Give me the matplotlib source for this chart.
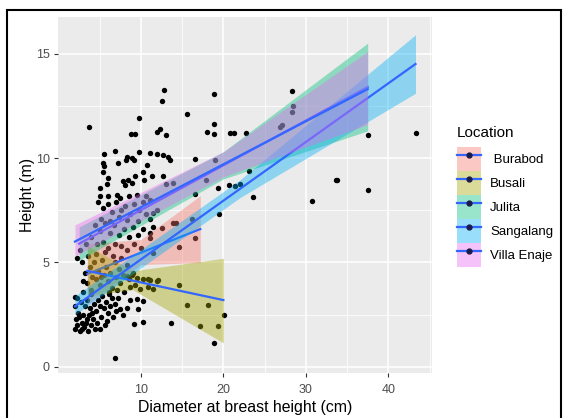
import matplotlib.pyplot as plt
from matplotlib.lines import Line2D
from matplotlib.patches import Patch, Rectangle

plt.rcParams['font.family'] = ['Liberation Sans', 'DejaVu Sans']

dbh = [
    3.7, 12.8, 12.5, 9.8, 18.85, 15.6, 18.85, 18.0, 18.85, 20.8, 21.3, 22.7, 8.75, 9.3, 12.0, 12.3, 13.0,
    28.3, 28.4, 28.3, 26.85, 27.1, 37.55, 43.3, 23.1, 33.6, 33.8, 37.55, 22.0, 23.6, 30.8,
    6.85, 5.55, 9.8, 11.1, 11.9, 12.7, 13.3, 13.5, 8.35, 8.2, 8.9, 9.15, 7.25, 5.45, 5.55, 5.35, 10.7, 10.2, 16.6, 19.0,
    6.05, 5.0, 5.85, 7.8, 8.45, 8.9, 8.05, 9.3, 10.35, 11.3, 12.7, 13.0, 13.85, 19.4, 20.7, 21.4, 17.95, 16.55,
    5.0, 6.05, 7.1, 7.4, 8.6, 9.55, 10.6,
    4.8, 5.4, 6.0, 6.5, 7.0, 7.6, 8.1, 8.7, 9.2, 9.8, 10.3, 11.1, 11.9, 11.45, 11.1, 19.5, 16.25,
    5.2, 6.3, 7.3, 8.3, 9.6, 10.6,
    4.4, 5.0, 5.6, 6.2, 6.7, 7.3, 7.9, 8.5, 9.0, 9.7, 10.3, 11.5, 12.6, 13.9, 14.25, 16.55, 11.1, 14.6, 11.5, 11.1,
    4.7, 5.4, 6.0, 6.8, 7.6, 8.3, 9.2, 10.0, 2.3, 2.6, 3.3, 3.9,
    3.0, 3.5, 4.0, 4.5, 5.0, 5.5, 6.0, 6.5, 7.0, 7.5, 8.0, 3.2, 3.8, 4.3, 4.8, 5.3, 5.8, 6.3, 6.8, 7.3, 7.8, 8.3,
    3.6, 4.6, 5.6, 6.6, 7.6, 4.1, 5.1, 6.1, 7.1, 8.6, 9.0, 3.0, 2.8,
    11.1, 11.95, 11.5, 14.6, 12.1, 10.3, 10.9, 10.9, 8.65, 9.25, 9.9, 9.5, 8.25, 8.9,
    15.6, 18.1, 20.05, 13.7, 17.15, 19.3, 18.85, 6.85, 9.15, 10.2, 9.6, 7.45, 8.25, 7.85, 8.65, 9.5, 10.2, 2.0,
    2.2, 2.0, 2.4, 2.1, 2.3, 2.0, 2.6, 2.8, 3.0, 3.2, 2.7, 3.5, 3.8, 3.4, 3.9, 3.1, 3.6, 4.2, 4.5, 4.3, 4.8,
    5.0, 4.7, 5.2, 5.5, 5.8, 6.0, 5.6, 6.3, 6.5, 6.1, 5.3, 4.0, 2.5, 3.3, 2.9, 4.4, 5.0, 3.7, 4.1, 6.8, 7.0,
    6.6, 7.2, 5.9,
]
height = [
    11.5, 13.25, 12.75, 11.9, 13.05, 12.1, 11.65, 11.25, 11.15, 11.2, 11.2, 11.2, 11.15, 11.15, 11.25, 11.4, 11.1,
    13.2, 12.5, 12.2, 11.5, 11.6, 11.1, 11.2, 9.4, 8.95, 8.95, 8.45, 8.75, 8.15, 7.95,
    10.35, 10.2, 10.3, 10.25, 10.2, 10.15, 10.05, 9.9, 10.05, 9.9, 10.0, 9.9, 9.75, 9.75, 9.6, 9.35, 9.65, 9.35, 9.95, 9.9,
    9.05, 8.55, 8.75, 8.9, 8.95, 8.8, 8.7, 9.15, 8.95, 9.15, 9.15, 8.75, 8.8, 8.55, 8.7, 8.65, 8.95, 8.3,
    8.2, 8.2, 8.25, 8.1, 8.2, 8.25, 8.2,
    7.9, 7.6, 7.8, 7.4, 7.9, 7.5, 7.7, 7.3, 7.8, 7.5, 7.9, 8.0, 7.5, 7.35, 7.1, 7.3, 7.1,
    7.1, 7.0, 7.2, 7.05, 7.0, 7.3,
    6.8, 6.5, 6.9, 6.4, 6.8, 6.3, 6.6, 6.2, 6.7, 6.3, 6.6, 6.7, 6.65, 6.9, 6.9, 6.15, 6.15, 5.75, 5.45, 6.4,
    5.9, 6.0, 5.7, 5.9, 5.8, 5.6, 5.9, 5.7, 5.2, 5.6, 5.9, 6.2,
    3.6, 4.0, 3.7, 4.2, 3.9, 4.4, 4.1, 3.8, 4.3, 4.0, 3.6, 4.5, 4.8, 5.0, 4.6, 5.1, 4.8, 4.5, 5.0, 4.7, 4.4, 4.9,
    5.3, 5.4, 5.5, 5.3, 5.2, 4.3, 4.3, 3.6, 3.7, 4.2, 4.5, 4.1, 5.0,
    4.15, 4.1, 3.75, 3.9, 4.15, 4.2, 4.2, 3.85, 3.85, 3.9, 3.75, 4.25, 4.35, 4.4,
    2.95, 2.95, 2.5, 2.1, 1.95, 1.95, 1.15, 0.45, 2.05, 2.15, 2.75, 2.75, 2.8, 2.5, 3.2, 3.25, 3.15, 3.35,
    3.3, 2.9, 2.6, 2.3, 2.0, 1.8, 1.7, 2.1, 2.5, 2.9, 3.1, 3.2, 2.8, 2.3, 2.0, 1.9, 1.7, 2.3, 2.7, 3.0, 3.2,
    2.9, 2.1, 2.4, 2.8, 3.1, 2.6, 2.0, 2.9, 3.3, 3.5, 3.4, 3.5, 2.4, 2.1, 1.8, 1.8, 1.8, 2.5, 2.6, 3.0, 2.7,
    2.4, 3.3, 2.2,
]

# ---- linear fits per location: x, fitted line, lower and upper band ----
locations = [" Burabod", "Busali", "Julita", "Sangalang", "Villa Enaje"]
fill_colors = ["#F8766D", "#A3A500", "#00BF7D", "#00B0F6", "#E76BF3"]

fit_x = [
    [3.5, 10.0, 17.2],
    [3.5, 9.0, 20.0],
    [2.5, 20.0, 37.5],
    [2.0, 22.0, 43.3],
    [2.0, 20.0, 37.5],
]
fit_y = [
    [4.45, 5.47, 6.6],
    [4.6, 4.13, 3.2],
    [5.9, 9.65, 13.4],
    [2.9, 8.52, 14.5],
    [6.0, 9.70, 13.3],
]
fit_lo = [
    [3.0, 4.9, 5.0],
    [3.4, 3.7, 1.15],
    [5.1, 9.0, 11.3],
    [2.5, 8.1, 13.1],
    [5.3, 9.1, 11.6],
]
fit_hi = [
    [5.9, 6.1, 8.2],
    [5.8, 4.6, 5.2],
    [6.7, 10.3, 15.5],
    [3.4, 8.95, 15.9],
    [6.8, 10.3, 15.1],
]

x_ticks = [10, 20, 30, 40]
y_ticks = [0, 5, 10, 15]

LINE_BLUE = "#3366FF"


def main() -> None:
    fig = plt.figure(figsize=(5.63, 4.18), dpi=100)
    ax = fig.add_axes([58 / 563, 1 - 373 / 418, 374 / 563, 356 / 418])

    ax.set_facecolor("#EBEBEB")
    for s in ax.spines.values():
        s.set_visible(False)
    ax.set_xlim(-0.06, 45.3)
    ax.set_ylim(-0.29, 16.75)
    ax.set_xticks(x_ticks)
    ax.set_yticks(y_ticks)
    ax.set_xticks([5, 15, 25, 35, 45], minor=True)
    ax.set_yticks([2.5, 7.5, 12.5], minor=True)
    ax.grid(which="major", color="white", linewidth=1.1)
    ax.grid(which="minor", color="white", linewidth=0.55)
    ax.set_axisbelow(True)
    ax.tick_params(which="major", length=3, width=0.8, color="#333333",
                   labelcolor="#4D4D4D", labelsize=9, pad=3)
    ax.tick_params(axis="x", which="major", pad=5)
    ax.tick_params(which="minor", length=0)

    ax.scatter(dbh, height, s=15, color="black", linewidths=0, zorder=2)

    for i in range(len(locations)):
        ax.fill_between(fit_x[i], fit_lo[i], fit_hi[i], color=fill_colors[i],
                        alpha=0.4, linewidth=0, zorder=3 + 2 * i)
        ax.plot(fit_x[i], fit_y[i], color=LINE_BLUE, linewidth=1.6, zorder=4 + 2 * i)

    ax.set_xlabel("Diameter at breast height (cm)", fontsize=11.4, labelpad=3)
    ax.set_ylabel("Height (m)", fontsize=11.4, labelpad=0.5)

    handles = []
    for c in fill_colors:
        handles.append((Patch(facecolor=c, alpha=0.4, linewidth=0),
                        Line2D([], [], color=LINE_BLUE, linewidth=1.6, marker="o",
                               markersize=3.5, markerfacecolor="#1B1B4B",
                               markeredgecolor="#1B1B4B")))
    fig.legend(handles, locations, loc="upper left",
               bbox_to_anchor=(457 / 563, 1 - 147 / 418), frameon=False,
               fontsize=9.5, handlelength=1.82, handleheight=2.42,
               handletextpad=0.68, labelspacing=0, borderpad=0, borderaxespad=0)
    fig.text(457 / 563, 1 - 133 / 418, "Location", fontsize=11, va="center", ha="left")

    # the screenshot frame around the chart (bottom edge falls outside the crop)
    fig.add_artist(Rectangle((7 / 563, -4 / 418), 554 / 563, 412 / 418,
                             transform=fig.transFigure, fill=False,
                             edgecolor="black", linewidth=1.5))

    fig.savefig("out.png", dpi=100)
    plt.close(fig)


if __name__ == "__main__":
    main()
